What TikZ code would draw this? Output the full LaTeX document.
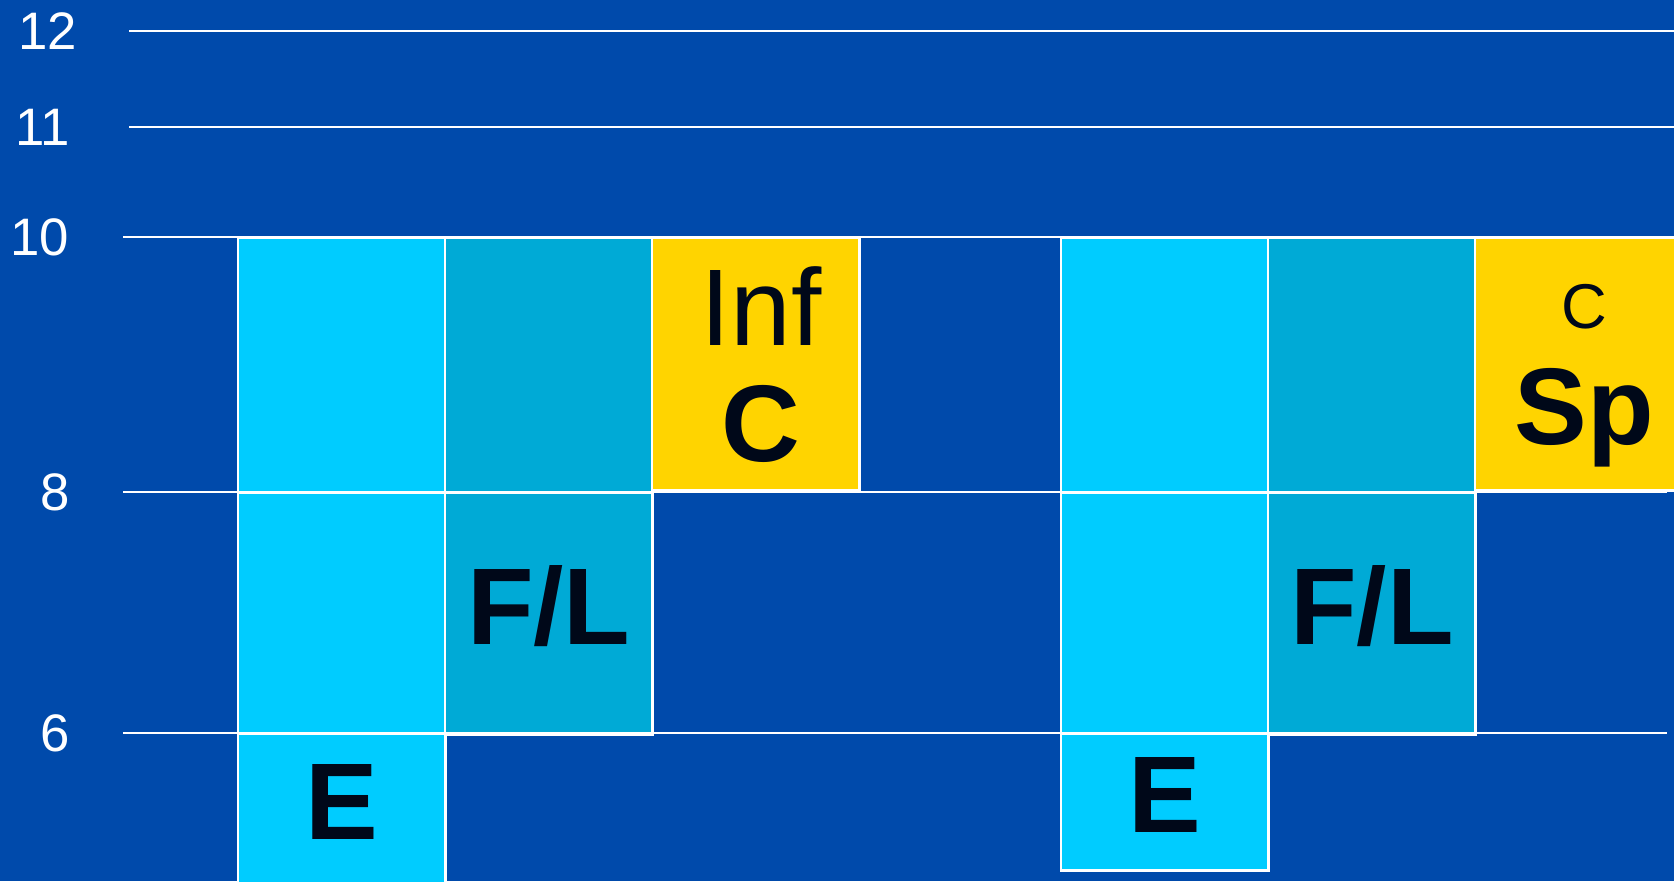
\documentclass[tikz,border=0pt]{standalone}
\usepackage{fontspec}
\setmainfont{Liberation Sans}
\usepackage{tikz}
\usetikzlibrary{positioning}
\definecolor{bgCol}{HTML}{004AAB}
\definecolor{eCol}{HTML}{00CCFF}
\definecolor{flCol}{HTML}{00AAD6}
\definecolor{capCol}{HTML}{FFD400}
\definecolor{inkCol}{HTML}{000819}
\tikzset{
  cell/.style={draw=white, line width=0.7pt, anchor=north west, inner sep=0pt,
               minimum width=2.07cm, text=inkCol, align=center,
               font=\fontsize{31}{33}\selectfont\bfseries},
  tall/.style={minimum height=2.55cm},
  mid/.style={minimum height=2.41cm},
  lift/.style={text height=0.77cm, text depth=0.16cm}, % sits a bit above the middle
  capcell/.style={cell, fill=capCol, minimum height=2.52cm, font=\fontsize{31}{33}\selectfont},
  lvl/.style={white, line width=0.7pt},
  lvllbl/.style={anchor=east, text=white, inner sep=0pt, font=\fontsize{15}{18}\selectfont},
}

\begin{document}
\begin{tikzpicture}[x=0.01cm, y=-0.01cm]
  \def\LA{237}\def\LB{444}\def\LC{651}
  \def\RA{1060}\def\RB{1267}\def\RC{1474}
  \def\Ytop{237}\def\Ymid{492}\def\Ylow{733}
  \fill[bgCol] (0,0) rectangle (1674,881);
  \useasboundingbox (0,0) rectangle (1674,881);

  % left group
  \node[cell, tall, fill=eCol] (l1a) at (\LA,\Ytop) {};
  \node[cell, mid,  fill=eCol] (l1b) at (\LA,\Ymid) {};
  \node[cell, lift, fill=eCol, minimum height=1.5cm] (l1c) at (\LA,\Ylow) {E};
  \node[cell, tall, fill=flCol] (l2a) at (\LB,\Ytop) {};
  \node[cell, mid, lift, fill=flCol] (l2b) at (\LB,\Ymid) {F/L};
  \node[capcell] (l3a) at (\LC,\Ytop) {\hspace{0.1cm}Inf\\\hspace{0.1cm}\textbf{C}};

  % right group
  \node[cell, tall, fill=eCol] (r1a) at (\RA,\Ytop) {};
  \node[cell, mid,  fill=eCol] (r1b) at (\RA,\Ymid) {};
  \node[cell, lift, fill=eCol, minimum height=1.36cm] (r1c) at (\RA,\Ylow) {E};
  \node[cell, tall, fill=flCol] (r2a) at (\RB,\Ytop) {};
  \node[cell, mid, lift, fill=flCol] (r2b) at (\RB,\Ymid) {F/L};
  \node[capcell, minimum width=2.18cm] (r3a) at (\RC,\Ytop)
       {\rule{0pt}{19pt}{\fontsize{18}{33}\selectfont C}\\\textbf{Sp}};

  % scale
  \foreach \v/\y/\xs/\xe/\xl in {12/31/129/1674/78, 11/127/129/1674/71, 10/237/123/1674/70,
                                 8/492/123/1667/71, 6/733/123/1667/71}{
    \node[lvllbl] (tick\v) at (\xl,\y) {\v};
    \draw[lvl] (\xs,\y) -- (\xe,\y);
  }
\end{tikzpicture}
\end{document}
